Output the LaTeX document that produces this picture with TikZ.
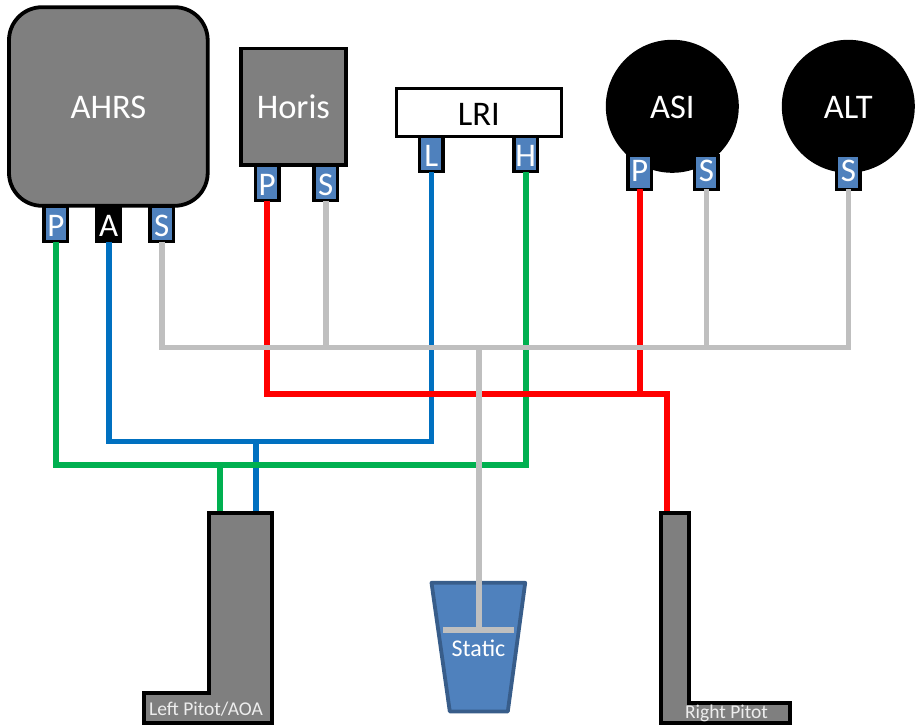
\documentclass[tikz,border=0pt]{standalone}
\usepackage{fontspec}
\setmainfont{Carlito}
\definecolor{boxgray}{HTML}{7F7F7F}
\definecolor{portblue}{HTML}{4F81BD}
\definecolor{cupedge}{HTML}{385D8A}
\definecolor{wireblue}{HTML}{0070C0}
\definecolor{wiregreen}{HTML}{00B050}
\definecolor{wirered}{HTML}{FF0000}
\definecolor{wiregray}{HTML}{BFBFBF}
\tikzset{
  wire/.style={line width=5.8pt},
  device/.style={draw=black,line width=3.8pt,fill=boxgray,text=white,inner sep=0pt,outer sep=0pt,text height=24pt,text depth=0pt,font=\fontsize{34.5}{34.5}\selectfont},
  dial/.style={circle,fill=black,text=white,inner sep=0pt,outer sep=0pt,minimum size=133pt,text height=24pt,text depth=0pt,font=\fontsize{34.5}{34.5}\selectfont},
  port/.style={draw=black,line width=3.4pt,fill=portblue,text=white,inner sep=0pt,outer sep=0pt,minimum width=23.5pt,minimum height=35.5pt,text height=24.5pt,text depth=0pt,font=\fontsize{33}{33}\selectfont},
  lowport/.style={port,minimum height=33.7pt,text height=19pt},
  probe/.style={draw=black,line width=4pt,fill=boxgray,line join=miter},
  probetext/.style={text=white!93!black,inner sep=0pt,font=\fontsize{19.5}{19.5}\selectfont},
}
\begin{document}
\begin{tikzpicture}[x=1pt,y=-1pt]
\useasboundingbox (0,0) rectangle (921,726);
% static cup (under the wires)
\path[draw=cupedge,line width=3.8pt,fill=portblue,line join=round]
  (431.5,582.8) -- (525.2,582.8) -- (507.8,711.5) -- (449.8,711.5) -- cycle;
\node[text=white,inner sep=0pt,font=\fontsize{24}{24}\selectfont] (statictext) at (478.5,648) {Static};
% named nodes
\path
  node[device,rounded corners=33pt,minimum width=198.7pt,minimum height=198.6pt] (ahrs) at (108.35,106.5) {AHRS}
  node[device,minimum width=105.3pt,minimum height=116.6pt] (horis) at (293.35,106.7) {Horis}
  node[device,fill=white,text=black,minimum width=165.3pt,minimum height=47.7pt,line width=3.4pt,text height=25.3pt] (lri) at (478.85,112.35) {LRI}
  node[dial] (asi) at (672.3,106.3) {ASI}
  node[dial] (alt) at (848.3,106.3) {ALT}
  node[port] (ahrsP) at (55.8,223.75) {P}
  node[port,fill=black] (ahrsA) at (108.7,223.75) {A}
  node[port] (ahrsS) at (161.7,223.75) {S}
  node[port] (horisP) at (267.2,182.75) {P}
  node[port] (horisS) at (325.7,182.75) {S}
  node[port] (lriL) at (431.4,154) {L}
  node[port] (lriH) at (525.7,154) {H}
  node[lowport] (asiP) at (639.7,172.35) {P}
  node[lowport] (asiS) at (706.4,172.35) {S}
  node[lowport] (altS) at (848.4,172.35) {S};
\coordinate (gj) at (220.3,465);
\coordinate (bj) at (256,441.5);
\coordinate (rj) at (639.7,394);
\coordinate (sj) at (478.7,347.5);
\coordinate (lpG) at (220.3,512);
\coordinate (lpB) at (256,512);
\coordinate (rpR) at (666.7,512);
\coordinate (tee) at (478.7,630);
\coordinate (barL) at (443.3,630);
\coordinate (barR) at (514.3,630);
% wires, in stacking order
\draw[wire,wireblue] (ahrsA.south) |- (bj) -| (lriL.south);
\draw[wire,wireblue] (bj) -- (lpB);
\draw[wire,wiregreen] (ahrsP.south) |- (gj) -| (lriH.south);
\draw[wire,wiregreen] (gj) -- (lpG);
\draw[wire,wirered] (horisP.south) |- (rj) -| (rpR);
\draw[wire,wirered] (asiP.south) -- (rj);
\draw[wire,wiregray] (ahrsS.south) |- (sj) -| (altS.south);
\draw[wire,wiregray] (horisS.south) -- (horisS.south |- sj);
\draw[wire,wiregray] (asiS.south) -- (asiS.south |- sj);
\draw[wire,wiregray] (sj) -- (tee);
\draw[wire,wiregray] (barL) -- (barR);
% pitot probes
\path[probe] (208.7,512.7) -- (272.3,512.7) -- (272.3,723) -- (144.3,723) -- (144.3,692.7) -- (208.7,692.7) -- cycle;
\node[probetext] (lptext) at (206,709.5) {Left Pitot/AOA};
\path[probe] (660.7,512.7) -- (688.7,512.7) -- (688.7,703) -- (789.7,703) -- (789.7,723) -- (660.7,723) -- cycle;
\node[probetext] (rptext) at (726.5,713.5) {Right Pitot};
\end{tikzpicture}
\end{document}
